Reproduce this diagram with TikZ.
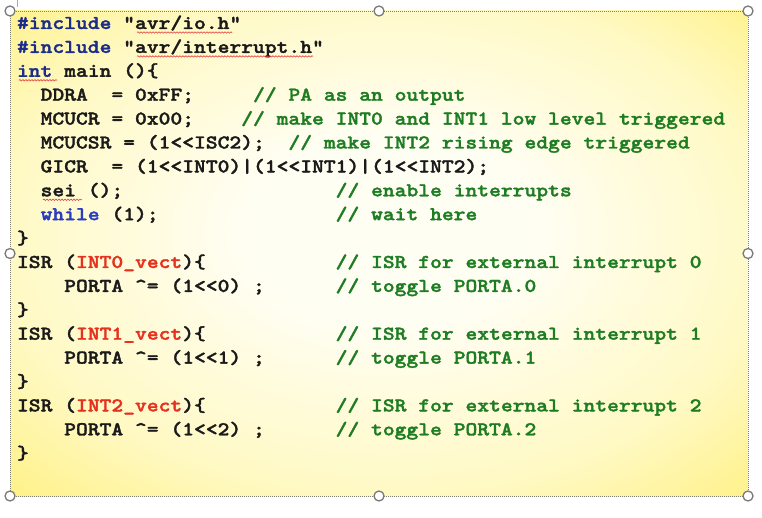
\documentclass[tikz,border=0pt]{standalone}
\usepackage{fontspec}
\setmonofont{lmmonolt10-bold.otf}[BoldFont=lmmonolt10-bold.otf, BoldFeatures={FakeBold=1.6}]
\usetikzlibrary{decorations.pathmorphing}
\definecolor{kwblue}{HTML}{1C2C8C}
\definecolor{whblue}{HTML}{2A3DC0}
\definecolor{cmgreen}{HTML}{1E7D22}
\definecolor{vecred}{HTML}{E5321E}
\definecolor{txt}{HTML}{1A1A1A}
\definecolor{yin}{HTML}{FFFEF2}
\definecolor{ymid}{HTML}{FFF9C4}
\definecolor{yout}{HTML}{FFF07E}
\definecolor{handlegray}{HTML}{7A7A7A}
\definecolor{framegray}{HTML}{808070}
\definecolor{squigred}{HTML}{E04040}
\definecolor{marker}{HTML}{F0A030}
\pgfdeclareradialshading{boxshade}{\pgfpoint{1bp}{3bp}}{color(0bp)=(yin); color(10bp)=(yin); color(26bp)=(ymid); color(38bp)=(yout); color(50bp)=(yout)}
\begin{document}
\begin{tikzpicture}[x=1pt,y=-1pt,
  code/.style={anchor=base west, inner sep=0pt, outer sep=0pt,
    xscale=1.147, transform shape,
    font=\fontsize{19.6}{24}\selectfont\ttfamily\bfseries, text=txt},
  handle/.style={circle, draw=handlegray, fill=white, line width=1.3pt,
    minimum size=10pt, inner sep=0pt},
  codebox/.style={rectangle, draw=framegray, line width=0.8pt,
    dash pattern=on 1pt off 1pt, shading=boxshade,
    minimum width=738pt, minimum height=485pt, inner sep=0pt, outer sep=0pt},
  squig/.style={draw=squigred, line width=0.6pt, decorate,
    decoration={snake, amplitude=0.7pt, segment length=3pt}}]
\useasboundingbox (0,0) rectangle (762,518);
\fill[white] (0,0) rectangle (762,518);
\node[codebox] (box) at (379,253.5) {};
\draw[marker, line width=1pt] (17,0) -- (17,7);
% code lines
\node[code] (L1) at (17,29.0) {\textcolor{kwblue}{\#include} "avr/io.h"};
\node[code] (L2) at (17,52.9) {\textcolor{kwblue}{\#include} "avr/interrupt.h"};
\node[code] (L3) at (17,76.8) {\textcolor{kwblue}{int} main~()\{};
\node[code] (L4) at (17,100.7) {~~DDRA~~=~0xFF;~~~~~\textcolor{cmgreen}{//~PA~as~an~output}};
\node[code] (L5) at (17,124.6) {~~MCUCR~=~0x00;~~~~\textcolor{cmgreen}{//~make~INT0~and~INT1~low~level~triggered}};
\node[code] (L6) at (17,148.5) {~~MCUCSR~=~(1<<ISC2);~~\textcolor{cmgreen}{//~make~INT2~rising~edge~triggered}};
\node[code] (L7) at (17,172.4) {~~GICR~~=~(1<<INT0)|(1<<INT1)|(1<<INT2);};
\node[code] (L8) at (17,196.3) {~~sei~();~~~~~~~~~~~~~~~~~~\textcolor{cmgreen}{//~enable~interrupts}};
\node[code] (L9) at (17,220.2) {~~\textcolor{whblue}{while}~(1);~~~~~~~~~~~~~~~\textcolor{cmgreen}{//~wait~here}};
\node[code] (L10) at (17,244.1) {\}};
\node[code] (L11) at (17,268.0) {ISR~(\textcolor{vecred}{INT0\_vect})\{~~~~~~~~~~~\textcolor{cmgreen}{//~ISR~for~external~interrupt~0}};
\node[code] (L12) at (17,291.9) {~~~~PORTA~\textasciicircum=~(1<<0)~;~~~~~~\textcolor{cmgreen}{//~toggle~PORTA.0}};
\node[code] (L13) at (17,315.8) {\}};
\node[code] (L14) at (17,339.7) {ISR~(\textcolor{vecred}{INT1\_vect})\{~~~~~~~~~~~\textcolor{cmgreen}{//~ISR~for~external~interrupt~1}};
\node[code] (L15) at (17,363.6) {~~~~PORTA~\textasciicircum=~(1<<1)~;~~~~~~\textcolor{cmgreen}{//~toggle~PORTA.1}};
\node[code] (L16) at (17,387.5) {\}};
\node[code] (L17) at (17,411.4) {ISR~(\textcolor{vecred}{INT2\_vect})\{~~~~~~~~~~~\textcolor{cmgreen}{//~ISR~for~external~interrupt~2}};
\node[code] (L18) at (17,435.3) {~~~~PORTA~\textasciicircum=~(1<<2)~;~~~~~~\textcolor{cmgreen}{//~toggle~PORTA.2}};
\node[code] (L19) at (17,459.2) {\}};
% spell-check squiggles
\path[squig] (137,32.5) -- (232,32.5);
\path[squig] (137,56.4) -- (313,56.4);
\path[squig] (19,80.3) -- (57,80.3);
\path[squig] (43,199.8) -- (82,199.8);
% selection handles
\foreach \a/\n in {north west/h1, north/h2, north east/h3, west/h4, east/h5, south west/h6, south/h7, south east/h8}
  \node[handle] (\n) at (box.\a) {};
\end{tikzpicture}
\end{document}
